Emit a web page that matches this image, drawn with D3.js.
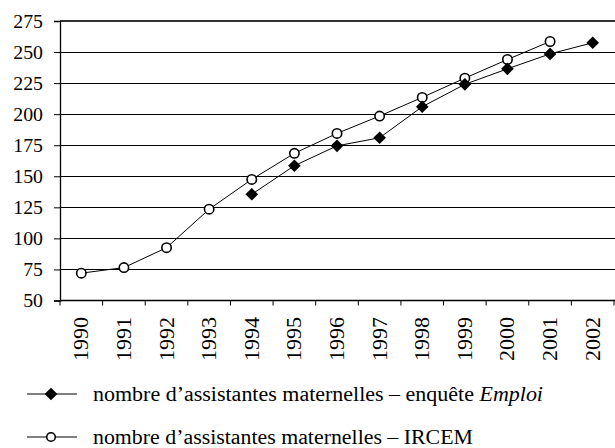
<!DOCTYPE html>
<html>
<head>
<meta charset="utf-8">
<script src="https://cdn.jsdelivr.net/npm/d3@7"></script>
<style>
  body { margin: 0; background: #fff; }
  text { font-family: 'Liberation Serif', 'Times New Roman', 'DejaVu Serif', serif; }
</style>
</head>
<body>
<div id="chart"></div>
<script>
// data
var years = ["1990", "1991", "1992", "1993", "1994", "1995", "1996", "1997", "1998", "1999", "2000", "2001", "2002"];
var emploi = [null, null, null, null, 135.5, 158.5, 174.5, 181, 206, 224, 236.5, 248.5, 257.5];
var ircem = [72, 76.5, 92.5, 123.5, 147.5, 168.5, 184.5, 198.5, 213.5, 229, 244, 258.5, null];
var yTicks = [50, 75, 100, 125, 150, 175, 200, 225, 250, 275];
var legendLabels = ["nombre d\u2019assistantes maternelles \u2013 enqu\u00eate ", "nombre d\u2019assistantes maternelles \u2013 IRCEM"];

var W = 615, H = 448;
var plotLeft = 60, plotRight = 614, plotTop = 21, plotBottom = 300.5;

var svg = d3.select("#chart").append("svg").attr("width", W).attr("height", H);

var x = d3.scaleBand().domain(years).range([plotLeft, plotRight]);
var y = d3.scaleLinear().domain([50, 275]).range([plotBottom, plotTop]);

// gridlines
svg.append("g").selectAll("line").data(yTicks.filter(function (d) { return d != 50 && d != 275; }))
    .enter().append("line")
    .attr("x1", plotLeft).attr("x2", W)
    .attr("y1", function (d) { return Math.round(y(d)) + 0.5; }).attr("y2", function (d) { return Math.round(y(d)) + 0.5; })
    .attr("stroke", "#000").attr("stroke-width", 1);

// top border
svg.append("line").attr("x1", plotLeft).attr("x2", W).attr("y1", y(275)).attr("y2", y(275))
    .attr("stroke", "#333").attr("stroke-width", 2);

// y axis
var yAxis = svg.append("g")
    .attr("transform", "translate(" + plotLeft + ",0)")
    .call(d3.axisLeft(y).tickValues(yTicks).tickSize(6).tickPadding(0).tickFormat(d3.format("d")));
yAxis.attr("font-family", null);
yAxis.select(".domain").attr("stroke", "#000").attr("stroke-width", 1.3);
yAxis.selectAll(".tick line").attr("stroke", "#000");
yAxis.selectAll(".tick text")
    .attr("x", 0).attr("dy", "0.35em")
    .attr("text-anchor", "end")
    .attr("font-size", 18).attr("fill", "#000")
    .attr("transform", "translate(-17,0) scale(1.1,1)");

// x axis
svg.append("line").attr("x1", plotLeft).attr("x2", W).attr("y1", plotBottom).attr("y2", plotBottom)
    .attr("stroke", "#000").attr("stroke-width", 1.3);
var tickPos = years.map(function (d) { return x(d); }).concat([plotRight]);
svg.append("g").selectAll("line").data(tickPos).enter().append("line")
    .attr("x1", function (d) { return d; }).attr("x2", function (d) { return d; })
    .attr("y1", plotBottom).attr("y2", plotBottom + 5)
    .attr("stroke", "#000");
svg.append("g").selectAll("text").data(years).enter().append("text")
    .attr("transform", function (d) { return "translate(" + (x(d) + x.bandwidth() / 2) + ",317) rotate(-90)"; })
    .attr("text-anchor", "end")
    .attr("dy", "0.35em")
    .attr("font-size", 20)
    .attr("textLength", 44).attr("lengthAdjust", "spacingAndGlyphs")
    .text(function (d) { return d; });

var line = d3.line()
    .defined(function (d) { return d != null; })
    .x(function (d, i) { return x(years[i]) + x.bandwidth() / 2; })
    .y(function (d) { return y(d); });

svg.append("path").datum(ircem).attr("d", line)
    .attr("fill", "none").attr("stroke", "#000").attr("stroke-width", 1);
svg.append("path").datum(emploi).attr("d", line)
    .attr("fill", "none").attr("stroke", "#000").attr("stroke-width", 1);

var diamond = d3.symbol().type(d3.symbolSquare).size(80);

function drawDiamond(g, cx, cy) {
    g.append("path").attr("d", diamond())
        .attr("transform", "translate(" + cx + "," + cy + ") rotate(45)")
        .attr("fill", "#000");
}

svg.append("g").selectAll("circle").data(ircem.map(function (v, i) { return {v: v, year: years[i]}; }).filter(function (d) { return d.v != null; }))
    .enter().append("circle")
    .attr("cx", function (d) { return x(d.year) + x.bandwidth() / 2; })
    .attr("cy", function (d) { return y(d.v); })
    .attr("r", 4.7)
    .attr("fill", "#fff").attr("stroke", "#000").attr("stroke-width", 1.6);

var dg = svg.append("g");
emploi.forEach(function (v, i) {
    if (v != null) drawDiamond(dg, x(years[i]) + x.bandwidth() / 2, y(v));
});

// legend
var legY = [394, 437];
var lg = svg.append("g");
legY.forEach(function (ly) {
    lg.append("line").attr("x1", 27).attr("x2", 77).attr("y1", ly).attr("y2", ly)
        .attr("stroke", "#000").attr("stroke-width", 1);
});
drawDiamond(lg, 51, legY[0]);
lg.append("circle").attr("cx", 51).attr("cy", legY[1]).attr("r", 4.3)
    .attr("fill", "#fff").attr("stroke", "#000").attr("stroke-width", 1.6);

var t1 = lg.append("text").attr("x", 93).attr("y", legY[0]).attr("dy", "0.35em").attr("font-size", 20)
    .attr("textLength", 450).attr("lengthAdjust", "spacingAndGlyphs");
t1.append("tspan").text(legendLabels[0]);
t1.append("tspan").attr("font-style", "italic").text("Emploi");
lg.append("text").attr("x", 93).attr("y", legY[1]).attr("dy", "0.35em").attr("font-size", 20)
    .attr("textLength", 380).attr("lengthAdjust", "spacingAndGlyphs")
    .text(legendLabels[1]);
</script>
</body>
</html>
